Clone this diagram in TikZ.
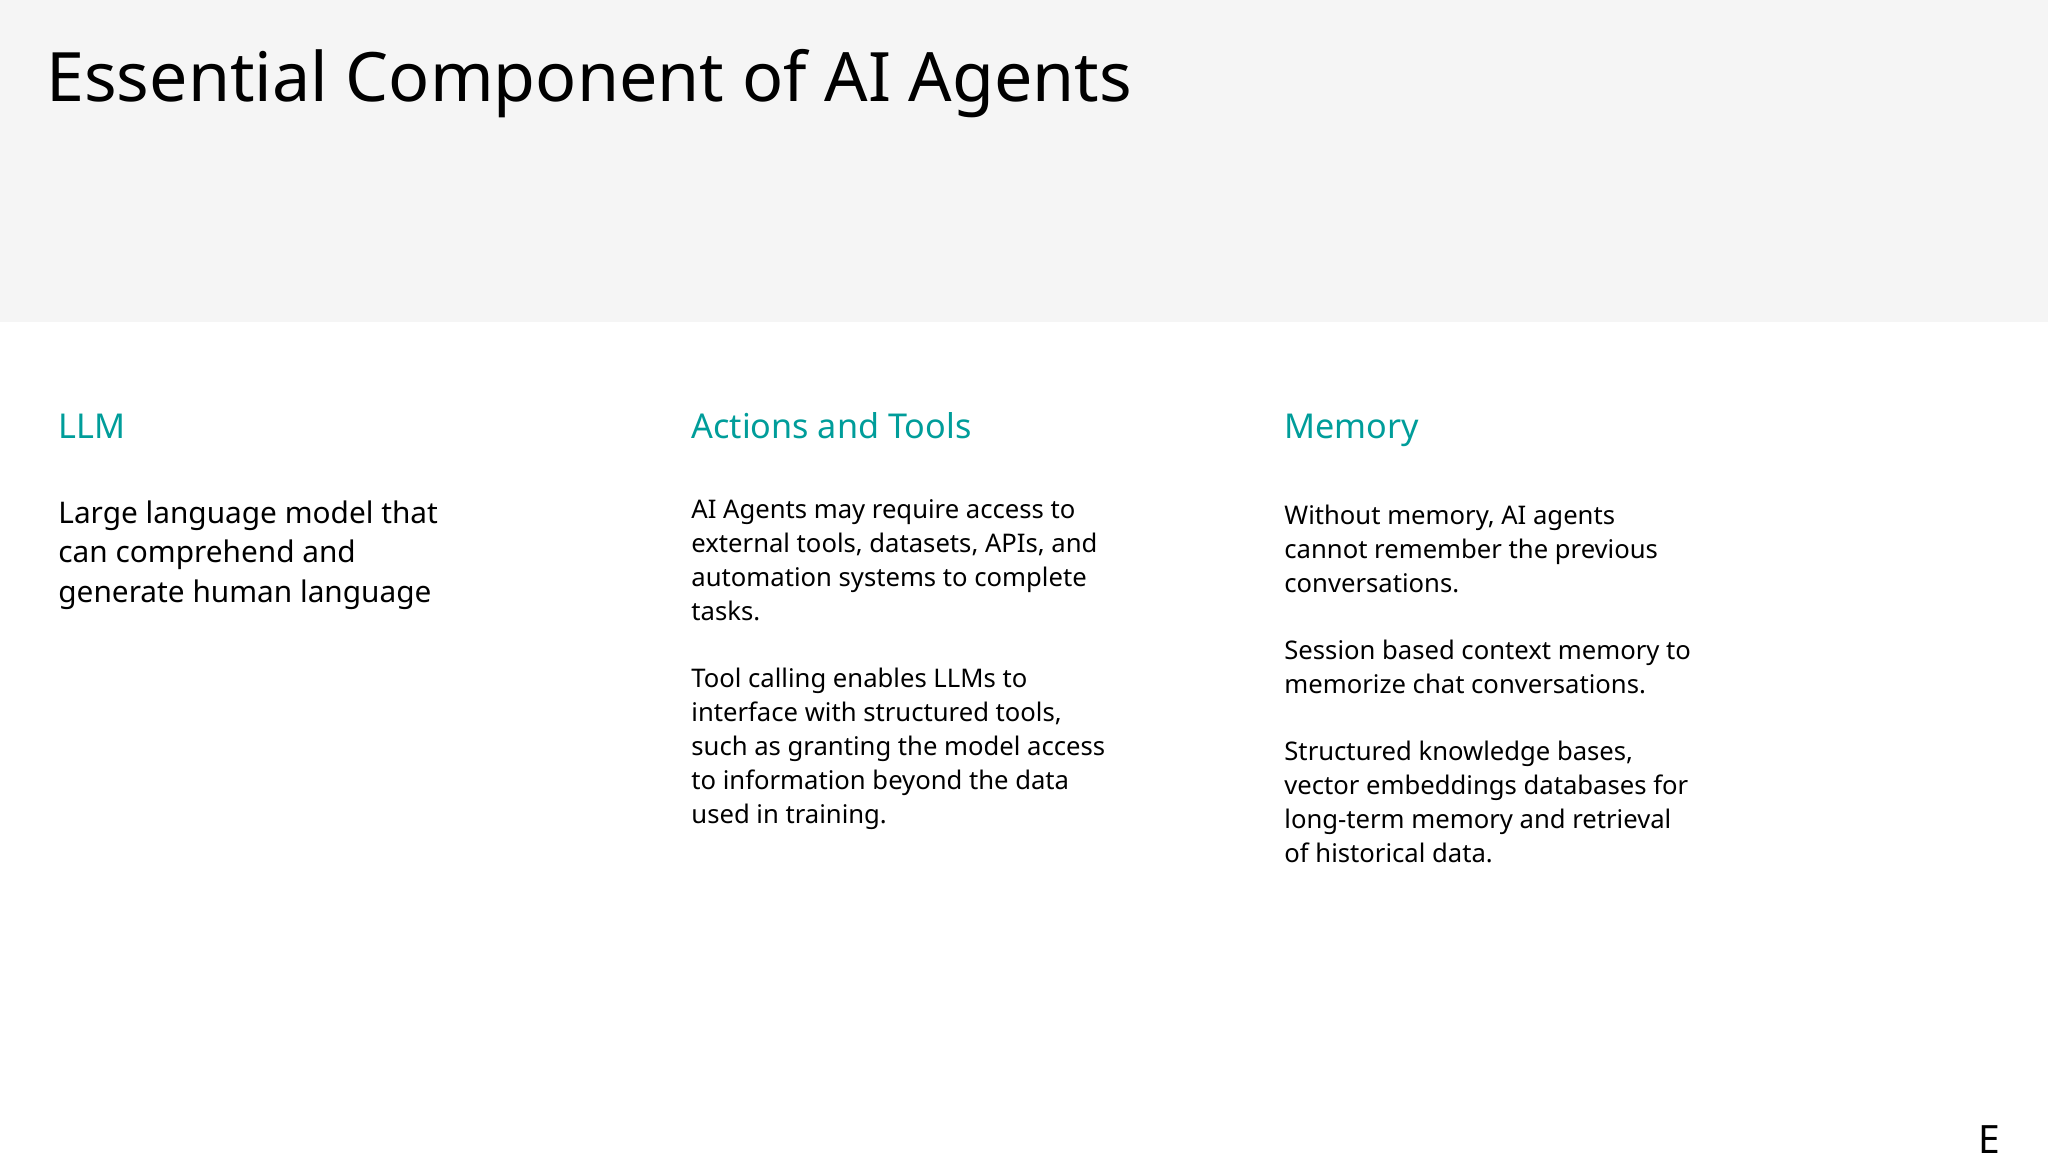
\documentclass[tikz,border=0pt]{standalone}
\usepackage{fontspec}
\setmainfont{Noto Sans}
\usepackage{xcolor}
\usetikzlibrary{positioning}
\definecolor{bandgray}{HTML}{F5F5F5}
\definecolor{headteal}{HTML}{009D9A}
\tikzset{
  slidetitle/.style={anchor=base west,inner sep=0pt,font=\fontsize{34.08}{40}\selectfont},
  colhead/.style={anchor=base west,inner sep=0pt,text=headteal,font=\fontsize{17.1}{21}\selectfont},
  colbody/.style={anchor=north west,inner sep=0pt,align=left,font=\fontsize{12.82}{17}\selectfont},
  leadbody/.style={anchor=north west,inner sep=0pt,align=left,font=\fontsize{14.9}{19.7}\selectfont},
}
\begin{document}
\begin{tikzpicture}[x=1pt,y=-1pt]
  \useasboundingbox (0,0) rectangle (1024,576);
  \fill[bandgray] (0,0) rectangle (1024,161);
  \node[slidetitle] (title) at (23,50.7) {Essential Component of AI Agents};
  \node[colhead] (llm) at (29,219) {LLM};
  \node[leadbody] (llmtext) at (29,250.2) {Large language model that\\can comprehend and\\generate human language};
  \node[colhead] (tools) at (345.5,219) {Actions and Tools};
  \node[colbody] (toolstext) at (345.5,249.6) {AI Agents may require access to\\external tools, datasets, APIs, and\\automation systems to complete\\tasks.\\[16.4pt]Tool calling enables LLMs to\\interface with structured tools,\\such as granting the model access\\to information beyond the data\\used in training.};
  \node[colhead] (memory) at (642,219) {Memory};
  \node[colbody] (memorytext) at (642,252.5) {Without memory, AI agents\\cannot remember the previous\\conversations.\\[16.4pt]Session based context memory to\\memorize chat conversations.\\[16.4pt]Structured knowledge bases,\\vector embeddings databases for\\long-term memory and retrieval\\of historical data.};
  \node[anchor=base east,inner sep=0pt,font=\fontsize{19.5}{23}\selectfont] (mark) at (1000.2,576.5) {E};
\end{tikzpicture}
\end{document}
